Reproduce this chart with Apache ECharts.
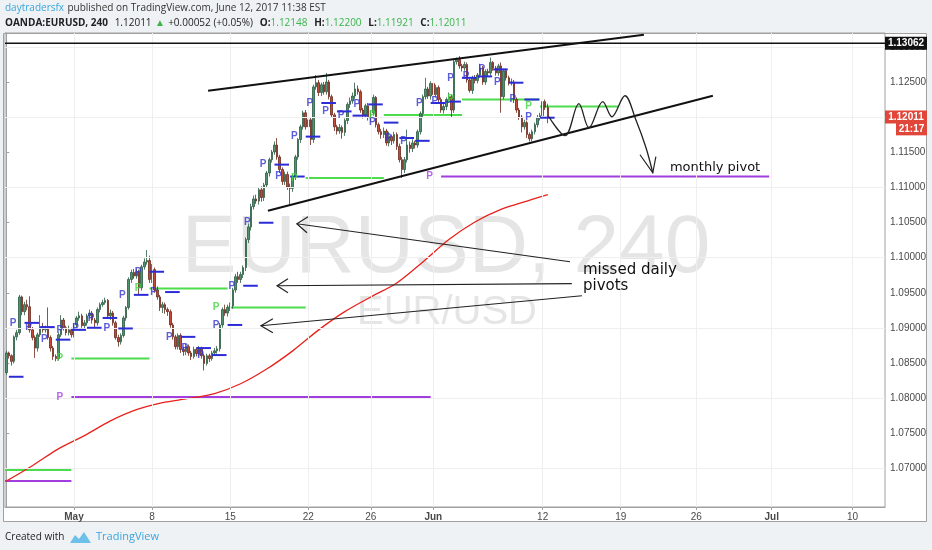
<!DOCTYPE html>
<html>
<head>
<meta charset="utf-8">
<script src="https://cdn.jsdelivr.net/npm/echarts@6/dist/echarts.min.js"></script>
<style>
html, body { margin: 0; padding: 0; background: #eff2f5; }
#chart { width: 932px; height: 550px; }
</style>
</head>
<body>
<div id="chart"></div>
<script>
// EURUSD 4h bars, [open, close, low, high], bar 0 = Apr 27
var candles = [
  [1.0836,1.0864,1.0833,1.0867],[1.0864,1.0860,1.0856,1.0866],[1.0860,1.0852,1.0846,1.0862],[1.0852,1.0887,1.0849,1.0889],
  [1.0887,1.0893,1.0882,1.0897],[1.0893,1.0944,1.0890,1.0947],[1.0944,1.0923,1.0918,1.0946],[1.0923,1.0933,1.0918,1.0937],
  [1.0933,1.0930,1.0925,1.0940],[1.0930,1.0897,1.0893,1.0945],[1.0897,1.0886,1.0882,1.0901],[1.0886,1.0871,1.0857,1.0889],
  [1.0871,1.0890,1.0866,1.0893],[1.0890,1.0901,1.0887,1.0918],[1.0901,1.0897,1.0893,1.0907],[1.0897,1.0899,1.0893,1.0903],
  [1.0899,1.0886,1.0883,1.0929],[1.0886,1.0871,1.0866,1.0889],[1.0871,1.0859,1.0854,1.0874],[1.0859,1.0856,1.0852,1.0862],
  [1.0856,1.0890,1.0853,1.0893],[1.0890,1.0911,1.0887,1.0918],[1.0911,1.0900,1.0896,1.0914],[1.0900,1.0893,1.0889,1.0903],
  [1.0893,1.0897,1.0889,1.0903],[1.0897,1.0890,1.0886,1.0900],[1.0890,1.0904,1.0886,1.0907],[1.0904,1.0914,1.0900,1.0917],
  [1.0914,1.0917,1.0910,1.0923],[1.0917,1.0903,1.0900,1.0920],[1.0903,1.0907,1.0897,1.0911],[1.0907,1.0917,1.0903,1.0920],
  [1.0917,1.0921,1.0913,1.0926],[1.0921,1.0911,1.0906,1.0924],[1.0911,1.0907,1.0899,1.0914],[1.0907,1.0926,1.0903,1.0929],
  [1.0926,1.0933,1.0922,1.0936],[1.0933,1.0936,1.0930,1.0940],[1.0936,1.0939,1.0933,1.0943],[1.0939,1.0917,1.0914,1.0941],
  [1.0917,1.0921,1.0911,1.0926],[1.0921,1.0907,1.0903,1.0924],[1.0907,1.0886,1.0883,1.0910],[1.0886,1.0880,1.0873,1.0890],
  [1.0880,1.0889,1.0876,1.0892],[1.0889,1.0914,1.0886,1.0917],[1.0914,1.0929,1.0910,1.0931],[1.0929,1.0969,1.0926,1.0972],
  [1.0969,1.0979,1.0964,1.0983],[1.0979,1.0974,1.0970,1.0984],[1.0974,1.0980,1.0970,1.0984],[1.0980,1.0957,1.0947,1.0983],
  [1.0957,1.0987,1.0953,1.0990],[1.0987,1.0994,1.0983,1.0999],[1.0994,1.0996,1.0990,1.1011],[1.0996,1.0969,1.0964,1.1003],
  [1.0969,1.0983,1.0964,1.0991],[1.0983,1.0954,1.0950,1.0986],[1.0954,1.0944,1.0940,1.0959],[1.0944,1.0929,1.0924,1.0947],
  [1.0929,1.0933,1.0921,1.0937],[1.0933,1.0926,1.0920,1.0936],[1.0926,1.0923,1.0917,1.0929],[1.0923,1.0904,1.0900,1.0926],
  [1.0904,1.0887,1.0883,1.0907],[1.0887,1.0873,1.0869,1.0890],[1.0873,1.0889,1.0869,1.0892],[1.0889,1.0869,1.0864,1.0892],
  [1.0869,1.0866,1.0860,1.0873],[1.0866,1.0873,1.0861,1.0877],[1.0873,1.0864,1.0860,1.0876],[1.0864,1.0859,1.0854,1.0867],
  [1.0859,1.0869,1.0856,1.0873],[1.0869,1.0863,1.0859,1.0872],[1.0863,1.0870,1.0859,1.0874],[1.0870,1.0860,1.0856,1.0873],
  [1.0860,1.0849,1.0839,1.0863],[1.0849,1.0860,1.0846,1.0863],[1.0860,1.0856,1.0851,1.0863],[1.0856,1.0864,1.0853,1.0867],
  [1.0864,1.0867,1.0860,1.0871],[1.0867,1.0870,1.0863,1.0874],[1.0870,1.0904,1.0866,1.0907],[1.0904,1.0926,1.0900,1.0929],
  [1.0926,1.0921,1.0917,1.0933],[1.0921,1.0929,1.0916,1.0933],[1.0929,1.0931,1.0924,1.0936],[1.0931,1.0954,1.0927,1.0957],
  [1.0954,1.0973,1.0950,1.0977],[1.0973,1.0969,1.0964,1.0980],[1.0969,1.0976,1.0964,1.0980],[1.0976,1.0986,1.0971,1.0989],
  [1.0986,1.1026,1.0981,1.1029],[1.1026,1.1044,1.1021,1.1049],[1.1044,1.1073,1.1039,1.1077],[1.1073,1.1084,1.1069,1.1089],
  [1.1084,1.1081,1.1077,1.1090],[1.1081,1.1097,1.1076,1.1100],[1.1097,1.1086,1.1080,1.1102],[1.1086,1.1104,1.1081,1.1107],
  [1.1104,1.1121,1.1100,1.1124],[1.1121,1.1140,1.1116,1.1143],[1.1140,1.1151,1.1136,1.1154],[1.1151,1.1161,1.1147,1.1166],
  [1.1161,1.1144,1.1140,1.1171],[1.1144,1.1126,1.1121,1.1147],[1.1126,1.1109,1.1104,1.1129],[1.1109,1.1119,1.1104,1.1123],
  [1.1119,1.1101,1.1097,1.1123],[1.1101,1.1099,1.1076,1.1106],[1.1099,1.1116,1.1094,1.1119],[1.1116,1.1144,1.1111,1.1147],
  [1.1144,1.1169,1.1140,1.1171],[1.1169,1.1187,1.1164,1.1190],[1.1187,1.1207,1.1183,1.1210],[1.1207,1.1187,1.1183,1.1211],
  [1.1187,1.1197,1.1181,1.1201],[1.1197,1.1169,1.1161,1.1201],[1.1169,1.1244,1.1164,1.1247],[1.1244,1.1250,1.1240,1.1261],
  [1.1250,1.1236,1.1231,1.1254],[1.1236,1.1247,1.1231,1.1250],[1.1247,1.1237,1.1233,1.1251],[1.1237,1.1251,1.1233,1.1264],
  [1.1251,1.1230,1.1226,1.1254],[1.1230,1.1204,1.1200,1.1233],[1.1204,1.1187,1.1181,1.1207],[1.1187,1.1181,1.1176,1.1190],
  [1.1181,1.1186,1.1177,1.1191],[1.1186,1.1179,1.1170,1.1189],[1.1179,1.1196,1.1174,1.1199],[1.1196,1.1219,1.1191,1.1222],
  [1.1219,1.1224,1.1214,1.1229],[1.1224,1.1231,1.1220,1.1236],[1.1231,1.1241,1.1227,1.1250],[1.1241,1.1237,1.1233,1.1246],
  [1.1237,1.1211,1.1207,1.1240],[1.1211,1.1204,1.1199,1.1214],[1.1204,1.1217,1.1200,1.1220],[1.1217,1.1200,1.1196,1.1221],
  [1.1200,1.1207,1.1194,1.1211],[1.1207,1.1229,1.1203,1.1233],[1.1229,1.1190,1.1186,1.1231],[1.1190,1.1180,1.1176,1.1193],
  [1.1180,1.1176,1.1170,1.1184],[1.1176,1.1181,1.1171,1.1186],[1.1181,1.1164,1.1160,1.1184],[1.1164,1.1173,1.1159,1.1180],
  [1.1173,1.1167,1.1161,1.1176],[1.1167,1.1176,1.1163,1.1180],[1.1176,1.1159,1.1154,1.1179],[1.1159,1.1140,1.1136,1.1163],
  [1.1140,1.1126,1.1114,1.1144],[1.1126,1.1140,1.1121,1.1144],[1.1140,1.1161,1.1136,1.1183],[1.1161,1.1156,1.1150,1.1166],
  [1.1156,1.1164,1.1151,1.1169],[1.1164,1.1161,1.1156,1.1167],[1.1161,1.1180,1.1157,1.1183],[1.1180,1.1206,1.1176,1.1209],
  [1.1206,1.1230,1.1201,1.1233],[1.1230,1.1241,1.1226,1.1257],[1.1241,1.1231,1.1227,1.1244],[1.1231,1.1249,1.1226,1.1252],
  [1.1249,1.1233,1.1229,1.1253],[1.1233,1.1243,1.1229,1.1247],[1.1243,1.1226,1.1221,1.1246],[1.1226,1.1211,1.1207,1.1229],
  [1.1211,1.1216,1.1206,1.1220],[1.1216,1.1226,1.1211,1.1229],[1.1226,1.1230,1.1221,1.1236],[1.1230,1.1211,1.1200,1.1233],
  [1.1211,1.1280,1.1207,1.1284],[1.1280,1.1283,1.1276,1.1286],[1.1283,1.1274,1.1270,1.1288],[1.1274,1.1271,1.1266,1.1277],
  [1.1271,1.1276,1.1267,1.1280],[1.1276,1.1254,1.1250,1.1279],[1.1254,1.1239,1.1236,1.1257],[1.1239,1.1257,1.1234,1.1260],
  [1.1257,1.1253,1.1249,1.1261],[1.1253,1.1261,1.1249,1.1264],[1.1261,1.1271,1.1257,1.1277],[1.1271,1.1251,1.1247,1.1274],
  [1.1251,1.1266,1.1247,1.1269],[1.1266,1.1264,1.1259,1.1270],[1.1264,1.1279,1.1260,1.1286],[1.1279,1.1271,1.1267,1.1281],
  [1.1271,1.1264,1.1260,1.1274],[1.1264,1.1274,1.1260,1.1277],[1.1274,1.1230,1.1207,1.1279],[1.1230,1.1267,1.1226,1.1270],
  [1.1267,1.1257,1.1253,1.1270],[1.1257,1.1250,1.1246,1.1260],[1.1250,1.1251,1.1246,1.1256],[1.1251,1.1226,1.1221,1.1254],
  [1.1226,1.1211,1.1207,1.1229],[1.1211,1.1201,1.1197,1.1214],[1.1201,1.1187,1.1179,1.1204],[1.1187,1.1193,1.1183,1.1197],
  [1.1193,1.1176,1.1171,1.1196],[1.1176,1.1170,1.1166,1.1179],[1.1170,1.1180,1.1166,1.1183],[1.1180,1.1190,1.1176,1.1193],
  [1.1190,1.1200,1.1186,1.1204],[1.1200,1.1203,1.1196,1.1207],[1.1203,1.1223,1.1199,1.1230],[1.1223,1.1215,1.1211,1.1226],
  [1.12148,1.12011,1.11921,1.12200]
];

// moving average, read at some bars
var maPoints = [[0,1.0681],[10,1.0703],[20,1.0727],[30,1.0746],[40,1.0767],[50,1.0783],[60,1.0793],[70,1.0799],
  [80,1.0806],[90,1.0820],[100,1.0841],[110,1.0867],[120,1.0897],[130,1.0923],[140,1.0944],[150,1.0964],
  [160,1.0994],[170,1.1026],[180,1.1051],[190,1.1069],[200,1.1081],[208,1.1090]];

// pivots: daily [first bar, price], weekly/monthly [from bar, to bar, price]
var dailyPivots = [[1,1.0830],[7,1.0907],[13,1.0901],[19,1.0883],[25,1.0897],[31,1.0900],[37,1.0914],[43,1.0899],
  [49,1.0947],[55,1.0980],[61,1.0951],[67,1.0887],[73,1.0871],[79,1.0861],[85,1.0904],[91,1.0960],[97,1.1050],
  [103,1.1133],[109,1.1116],[115,1.1173],[121,1.1221],[127,1.1209],[133,1.1203],[139,1.1219],[145,1.1193],
  [151,1.1171],[157,1.1167],[163,1.1221],[169,1.1223],[175,1.1257],[181,1.1259],[187,1.1269],[193,1.1250],
  [199,1.1226],[205,1.1200]];
var weeklyPivots = [[-0.5,25,1.0697],[25,55,1.0856],[55,85,1.0956],[85,115,1.0929],[115,145,1.1114],
  [145,175,1.1204],[175,205,1.1226],[205,235,1.1216]];
var monthlyPivots = [[-0.5,25,1.0681],[25,163,1.0801],[167,293,1.1116]];

// hand drawn lines (bar, price)
var trendLines = [[[77.5,1.12386],[244.9,1.13186]], [[100.5,1.10671],[271.4,1.12314]]];
var arrowShafts = [[[216.5,1.09943],[111.6,1.10486]], [[217.2,1.09629],[104.0,1.09600]], [[221.1,1.09457],[97.8,1.09029]]];
var arrowHeads = [[[115.9,1.10586],[111.6,1.10486],[115.5,1.10357]], [[108.2,1.09700],[104.0,1.09600],[108.2,1.09500]],
  [[102.4,1.09129],[97.8,1.09029],[102.4,1.08929]], [[243.4,1.11471],[248.3,1.11214],[249.5,1.11443]]];
var projection = [[208.4,1.12014],[214.6,1.11743],[219.9,1.12200],[223.8,1.11857],[229.1,1.12229],[232.6,1.12014],
  [237.6,1.12314],[241.8,1.11971],[245.7,1.11571],[248.3,1.11214]];
var notes = [['missed daily', 221.5, 1.09829, 15], ['pivots', 221.5, 1.09600, 15], ['monthly pivot', 254.9, 1.11286, 13]];

var priceTicks = [1.07,1.075,1.08,1.085,1.09,1.095,1.1,1.105,1.11,1.115,1.12,1.125,1.13];
var dateTicks = [[26,'May'],[56,'8'],[86,'15'],[116,'22'],[140,'26'],[164,'Jun'],[206,'12'],[236,'19'],[265,'26'],[294,'Jul'],[325,'10']];
var monthNames = ['May','Jun','Jul'];
var levelLine = 1.13062;

var N = 338;           // bar slots on screen
var yMin = 1.0644, yMax = 1.1321;

var cats = [];
for (var i = 0; i < N; i++) cats.push(i);
var tickAt = {};
dateTicks.forEach(function (t) { tickAt[t[0]] = t[1]; });
function isTick(i) { return tickAt[i] !== undefined; }

function hsegs(list) {
  return list.map(function (p) { return { coords: [[p[0], p[2]], [p[1], p[2]]] }; });
}
function pLabels(list, color) {
  return {
    type: 'scatter', xAxisIndex: 1, yAxisIndex: 0, symbolSize: 1, silent: true, z: 6,
    itemStyle: { color: 'rgba(0,0,0,0)' },
    label: { show: true, position: 'inside', formatter: 'P', color: color, fontSize: 10, fontWeight: 'bold', fontFamily: 'Liberation Sans' },
    data: list.filter(function (d) { return d[0] > 0; })
  };
}
function segLines(data, color, width, z) {
  return { type: 'lines', coordinateSystem: 'cartesian2d', xAxisIndex: 1, yAxisIndex: 0, polyline: true, silent: true, z: z || 5,
    lineStyle: { color: color, width: width, opacity: 1 }, data: data };
}

var dailySegs = dailyPivots.map(function (d) { return { coords: [[d[0], d[1]], [d[0] + 5.6, d[1]]] }; });

var option = {
  animation: false,
  grid: { left: 5, right: 47, top: 33, bottom: 43, show: true, borderColor: '#a0a0a0', borderWidth: 1 },
  xAxis: [{
    type: 'category', data: cats, boundaryGap: true,
    axisLine: { lineStyle: { color: '#a0a0a0' } },
    axisTick: { show: true, alignWithLabel: true, length: 3, interval: isTick, lineStyle: { color: '#a0a0a0' } },
    axisLabel: {
      interval: isTick, fontSize: 10, color: '#4a4a4a', margin: 5, fontFamily: 'Liberation Sans',
      formatter: function (v, i) { var s = tickAt[i]; return monthNames.indexOf(s) >= 0 ? '{b|' + s + '}' : s; },
      rich: { b: { fontWeight: 'bold', fontSize: 10, color: '#4a4a4a', fontFamily: 'Liberation Sans' } }
    },
    splitLine: { show: false }
  }, {
    type: 'value', min: -0.5, max: N - 0.5, show: false
  }],
  yAxis: {
    type: 'value', position: 'right', min: yMin, max: yMax, scale: true,
    axisLine: { show: true, lineStyle: { color: '#a0a0a0' } },
    axisTick: { show: true, length: 3, customValues: priceTicks, lineStyle: { color: '#a0a0a0' } },
    axisLabel: { customValues: priceTicks, fontSize: 10, color: '#4a4a4a', margin: 5, fontFamily: 'Liberation Sans',
      formatter: function (v) { return v.toFixed(5); } },
    splitLine: { show: false }
  },
  series: [
    { type: 'line', xAxisIndex: 1, yAxisIndex: 0, data: [], silent: true, z: 1,
      markLine: { silent: true, symbol: 'none', label: { show: false },
        lineStyle: { color: '#efefef', width: 1, type: 'solid' },
        data: priceTicks.map(function (v) { return { yAxis: v }; })
          .concat(dateTicks.map(function (t) { return { xAxis: t[0] }; })) } },
    { type: 'candlestick', xAxisIndex: 0, yAxisIndex: 0, data: candles, barWidth: 2, z: 4,
      itemStyle: { color: '#52906f', color0: '#c24a37', borderColor: '#2a5a41', borderColor0: '#6a281c', borderWidth: 0.8 } },
    { type: 'line', xAxisIndex: 1, yAxisIndex: 0, data: maPoints, smooth: 0.3, showSymbol: false, silent: true, z: 4,
      lineStyle: { color: '#e8221b', width: 1.3 } },
    segLines(hsegs(monthlyPivots), '#a23ee0', 2, 3),
    segLines(hsegs(weeklyPivots), '#4ddc4d', 2, 3),
    segLines(dailySegs, '#2b2bd9', 2, 5),
    pLabels(dailyPivots.map(function (d) { return [d[0] - 4.4, d[1]]; }), '#3535d0'),
    pLabels(weeklyPivots.map(function (d) { return [d[0] - 4.4, d[2]]; }), '#3ed43e'),
    pLabels(monthlyPivots.map(function (d) { return [d[0] - 4.4, d[2]]; }), '#a23ee0'),
    segLines([{ coords: [[-0.5, levelLine], [N - 0.5, levelLine]] }], '#111', 1.5, 6),
    segLines(trendLines.map(function (c) { return { coords: c }; }), '#111', 2, 7),
    segLines(arrowShafts.map(function (c) { return { coords: c }; }), '#222', 1.2, 7),
    segLines(arrowHeads.map(function (c) { return { coords: c }; }), '#222', 1.2, 7),
    { type: 'line', xAxisIndex: 1, yAxisIndex: 0, data: projection, smooth: 0.35, showSymbol: false, silent: true, z: 7,
      lineStyle: { color: '#222', width: 1.3 } }
  ]
};

var chart = echarts.init(document.getElementById('chart'));
chart.setOption(option);

function px(i, p) { return chart.convertToPixel({ xAxisIndex: 1, yAxisIndex: 0 }, [i, p]); }

var g = [
  { type: 'rect', shape: { x: 3.5, y: 33.5, width: 923, height: 488 }, style: { fill: '#fff', stroke: '#a0a0a0' }, z: -20 },
  { type: 'text', x: 446, y: 249, z: -10, style: { text: 'EURUSD, 240', font: '82px "Liberation Sans"', fill: '#e5e5e5', align: 'center', verticalAlign: 'middle' } },
  { type: 'text', x: 447, y: 313, z: -10, style: { text: 'EUR/USD', font: '40px "Liberation Sans"', fill: '#e5e5e5', align: 'center', verticalAlign: 'middle' } },
  { type: 'text', x: 5, y: 8, style: { text: '{a|daytradersfx} {b|published on TradingView.com, June 12, 2017 11:38 EST}', verticalAlign: 'middle',
      rich: { a: { fill: '#3ba4dc', fontSize: 10, fontFamily: 'Open Sans' }, b: { fill: '#333', fontSize: 10, fontFamily: 'Open Sans' } } } },
  { type: 'text', x: 5, y: 23, style: { verticalAlign: 'middle',
      text: '{k|OANDA:EURUSD, 240}  {n|1.12011} {g|\u25B2} {n|+0.00052 (+0.05%)}  {k|O:}{g|1.12148}  {k|H:}{g|1.12200}  {k|L:}{g|1.11921}  {k|C:}{g|1.12011}',
      rich: { k: { fill: '#222', fontSize: 10, fontWeight: 'bold', fontFamily: 'Open Sans' },
              n: { fill: '#222', fontSize: 10, fontFamily: 'Open Sans' },
              g: { fill: '#39b54a', fontSize: 10, fontFamily: 'Open Sans' } } } },
  { type: 'text', x: 5, y: 537, style: { text: 'Created with', font: '10px "Open Sans"', fill: '#222', verticalAlign: 'middle' } },
  { type: 'polygon', shape: { points: [[70, 543], [75, 535], [79, 539], [84, 532], [91, 543]] }, style: { fill: '#6cc0ea' } },
  { type: 'text', x: 96, y: 537, style: { text: 'TradingView', font: '11px "Open Sans"', fill: '#3ba4dc', verticalAlign: 'middle' } }
];

notes.forEach(function (n) {
  var p = px(n[1], n[2]);
  g.push({ type: 'text', x: p[0], y: p[1], z: 10, style: { text: n[0], font: n[3] + 'px "DejaVu Sans"', fill: '#111', verticalAlign: 'middle' } });
});

function priceBox(txt, p, bg, x0, w) {
  var y = px(0, p)[1];
  g.push({ type: 'rect', z: 20, shape: { x: x0, y: y - 6.5, width: w, height: 13 }, style: { fill: bg } });
  g.push({ type: 'text', z: 21, x: x0 + w / 2, y: y, style: { text: txt, font: 'bold 10px "Liberation Sans"', fill: '#fff', align: 'center', verticalAlign: 'middle' } });
}
priceBox(levelLine.toFixed(5), levelLine, '#111', 885, 42);
var lastClose = candles[candles.length - 1][1];
priceBox(lastClose.toFixed(5), lastClose, '#e0473a', 885, 42);
priceBox('21:17', lastClose - 0.0017, '#e0473a', 896, 31);

chart.setOption({ graphic: g });
</script>
</body>
</html>
